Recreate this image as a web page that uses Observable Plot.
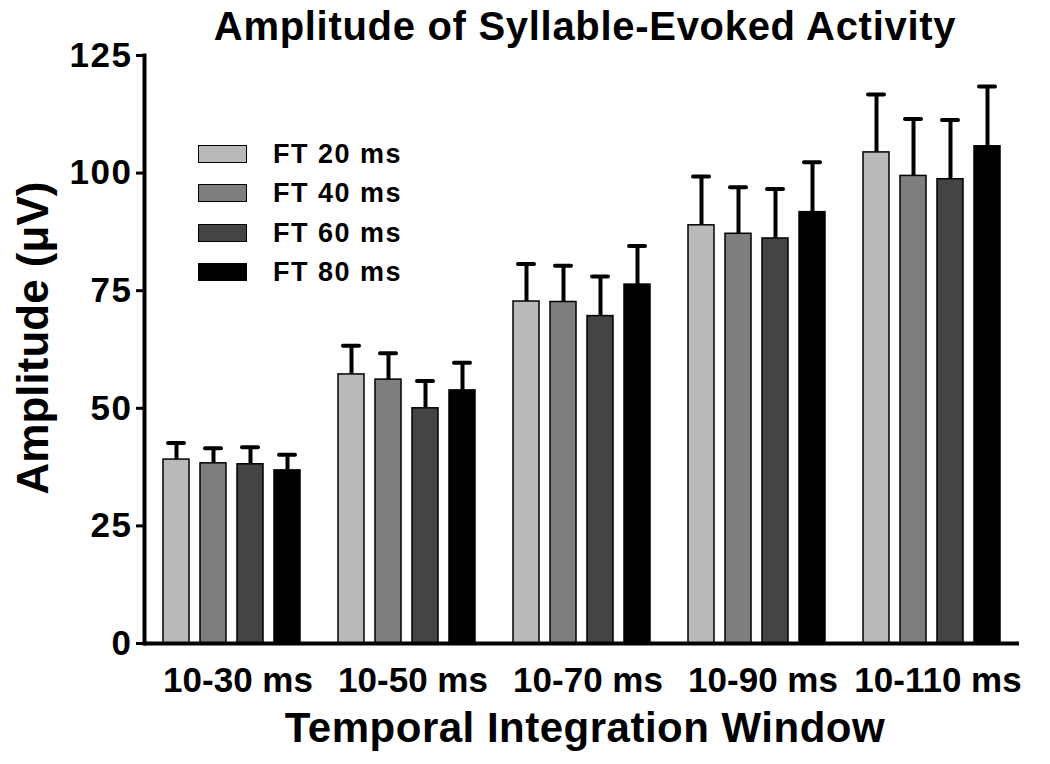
<!DOCTYPE html>
<html>
<head>
<meta charset="utf-8">
<script src="https://cdn.jsdelivr.net/npm/d3@7"></script>
<script src="https://cdn.jsdelivr.net/npm/@observablehq/plot@0.6"></script>
<style>
  html, body { margin: 0; padding: 0; background: #ffffff; }
  #wrap { position: relative; width: 1050px; height: 764px; overflow: hidden; background: #fff;
          font-family: "Liberation Sans", Arial, Helvetica, sans-serif; font-weight: bold; color: #000; }
  #wrap .lbl { position: absolute; white-space: nowrap; line-height: 1; }
  g[aria-label="y-axis tick label"] text { letter-spacing: 1.5px; }
  .legrow { position: absolute; display: flex; align-items: center; height: 36px; width: 260px; }
  .legsw { box-sizing: border-box; width: 49px; height: 18px; border: 1.5px solid #000; }
  .legtx { position: absolute; left: 75px; font-size: 27px; letter-spacing: 1.5px; line-height: 1; white-space: nowrap; }
</style>
</head>
<body>
<div id="wrap"></div>
<script>
// ---- data ----
const groups = ["10-30 ms", "10-50 ms", "10-70 ms", "10-90 ms", "10-110 ms"];
const series = ["FT 20 ms", "FT 40 ms", "FT 60 ms", "FT 80 ms"];
const colors = ["#bababa", "#7e7e7e", "#444444", "#000000"];

const ft20Mean = [39.1, 57.2, 72.7, 88.9, 104.4];
const ft20Sem  = [3.5, 6.1, 8.0, 10.4, 12.3];
const ft40Mean = [38.3, 56.1, 72.6, 87.1, 99.4];
const ft40Sem  = [3.2, 5.6, 7.7, 9.9, 12.1];
const ft60Mean = [38.1, 50.0, 69.6, 86.1, 98.7];
const ft60Sem  = [3.6, 5.8, 8.4, 10.5, 12.6];
const ft80Mean = [36.8, 53.8, 76.3, 91.7, 105.7];
const ft80Sem  = [3.3, 5.9, 8.2, 10.6, 12.7];

const yTicks = [0, 25, 50, 75, 100, 125];

const title = "Amplitude of Syllable-Evoked Activity";
const xTitle = "Temporal Integration Window";
const yTitle = "Amplitude (\u03BCV)";

// ---- table ----
const means = [ft20Mean, ft40Mean, ft60Mean, ft80Mean];
const sems = [ft20Sem, ft40Sem, ft60Sem, ft80Sem];
const data = [];
groups.forEach((g, gi) => {
  series.forEach((s, si) => {
    data.push({group: g, series: s, mean: means[si][gi], sem: sems[si][gi]});
  });
});

const chart = Plot.plot({
  width: 1050,
  height: 764,
  marginLeft: 144,
  marginRight: 31,
  marginTop: 55,
  marginBottom: 121,
  style: {fontFamily: "'Liberation Sans', Arial, sans-serif", fontWeight: "bold", color: "#000", background: "transparent", overflow: "visible"},
  fx: {domain: groups, padding: 0, label: null},
  x: {domain: series, paddingInner: 0.3, paddingOuter: 0.5, axis: null},
  y: {domain: [0, 125], label: null},
  color: {domain: series, range: colors},
  marks: [
    Plot.barY(data, {fx: "group", x: "series", y: "mean", fill: "series", stroke: "#000", strokeWidth: 1.5}),
    Plot.ruleX(data, {fx: "group", x: "series", y1: "mean", y2: d => d.mean + d.sem, stroke: "#000", strokeWidth: 4}),
    Plot.tickY(data, {fx: "group", x: "series", y: d => d.mean + d.sem, stroke: "#000", strokeWidth: 4, insetLeft: 5, insetRight: 5, strokeLinecap: "round"}),
    Plot.ruleY([0], {stroke: "#000", strokeWidth: 4}),
    Plot.frame({anchor: "left", facetAnchor: "left", stroke: "#000", strokeWidth: 4}),
    Plot.axisY({ticks: yTicks, tickFormat: d => String(d), tickSize: 8, tickPadding: 4, fontSize: 35, strokeWidth: 3, label: null}),
    Plot.axisFx({anchor: "bottom", tickSize: 0, tickPadding: 24, fontSize: 35, dx: 6, label: null})
  ]
});

const wrap = document.getElementById("wrap");
wrap.appendChild(chart);

function addLabel(text, css) {
  const d = document.createElement("div");
  d.className = "lbl";
  d.textContent = text;
  Object.assign(d.style, css);
  wrap.appendChild(d);
}
addLabel(title, {left: "585px", top: "6px", fontSize: "40px", letterSpacing: "0.7px", transform: "translateX(-50%)"});
addLabel(xTitle, {left: "585px", top: "707px", fontSize: "42px", letterSpacing: "0.5px", transform: "translateX(-50%)"});
addLabel(yTitle, {left: "33px", top: "338px", fontSize: "44px", transform: "translate(-50%, -50%) rotate(-90deg)"});

// legend
const rowCenters = [154, 193, 233, 272];
series.forEach((s, i) => {
  const row = document.createElement("div");
  row.className = "legrow";
  row.style.left = "198px";
  row.style.top = (rowCenters[i] - 18) + "px";
  const sw = document.createElement("div");
  sw.className = "legsw";
  sw.style.background = colors[i];
  const tx = document.createElement("div");
  tx.className = "legtx";
  tx.textContent = s;
  row.appendChild(sw);
  row.appendChild(tx);
  wrap.appendChild(row);
});
</script>
</body>
</html>
